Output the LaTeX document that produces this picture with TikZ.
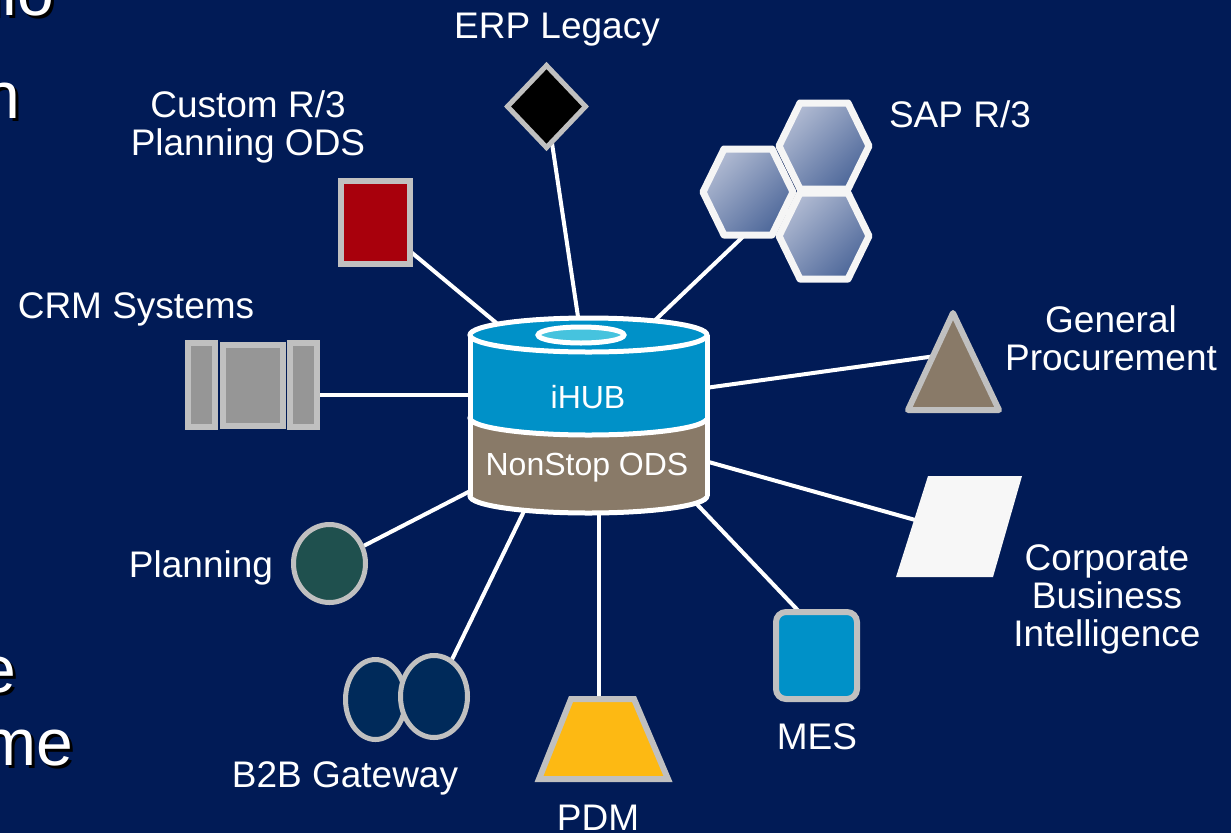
\documentclass[tikz,border=0pt]{standalone}
\usepackage{fontspec}
\setmainfont{Liberation Sans}
\usetikzlibrary{shapes.geometric,backgrounds}
\definecolor{slidebg}{RGB}{1,27,86}
\definecolor{rimgrey}{RGB}{192,192,192}
\definecolor{hubblue}{RGB}{0,145,200}
\definecolor{odsbrown}{RGB}{137,122,104}
\definecolor{holecyan}{RGB}{70,195,222}
\definecolor{r3red}{RGB}{168,0,12}
\definecolor{crmgrey}{RGB}{150,150,150}
\definecolor{planteal}{RGB}{31,80,78}
\definecolor{b2bnavy}{RGB}{0,42,90}
\definecolor{pdmyellow}{RGB}{253,185,19}
\definecolor{hexlight}{RGB}{176,186,210}
\definecolor{hexdark}{RGB}{78,104,154}
\tikzset{
  lbl/.style={text=white, font=\fontsize{37}{38}\selectfont, align=center, inner sep=0pt},
  frag/.style={text=white, font=\fontsize{66}{73}\selectfont, inner sep=0pt, anchor=base east},
  fragshade/.style={frag, text=black},
  box/.style={draw=rimgrey, line width=6pt, inner sep=0pt, outer sep=0pt},
  link/.style={draw=white, line width=4pt},
  hexcell/.style={draw=white!96!black, line width=7pt, line join=round, top color=hexlight, bottom color=hexdark, shading angle=45},
  rim/.style={draw=white, line width=5pt}
}
\begin{document}
\begin{tikzpicture}[x=1pt, y=-1pt]
\useasboundingbox (0,0) rectangle (1231,833);
\begin{scope}[on background layer]
\fill[slidebg] (0,0) rectangle (1231,833);
\end{scope}
\node[fragshade] at (57,18) {nio};
\node[frag] (fr1) at (54,15) {nio};
\node[fragshade] at (23,121) {n};
\node[frag] (fr2) at (20,118) {n};
\node[fragshade] at (19,695) {e};
\node[frag] (fr3) at (16,692) {e};
\node[fragshade] at (76,768) {me};
\node[frag] (fr4) at (73,765) {me};
\node[box, diamond, fill=black, line width=5pt, minimum width=78pt, minimum height=82pt] (erp) at (546.5,106.5) {};
\node[box, fill=r3red, minimum width=69pt, minimum height=83pt] (r3) at (375.5,222.5) {};
\node[box, fill=crmgrey, minimum width=27pt, minimum height=84pt] (crml) at (201.5,385) {};
\node[box, fill=crmgrey, minimum width=60pt, minimum height=81pt] (crmm) at (253,385.5) {};
\node[box, fill=crmgrey, minimum width=27pt, minimum height=84pt] (crmr) at (303.5,385) {};
\draw[hexcell, shift={(748,192)}] (-45,0) -- (-24,-43) -- (24,-43) -- (45,0) -- (24,43) -- (-24,43) -- cycle;
\draw[hexcell, shift={(824,236)}] (-45,0) -- (-24,-43) -- (24,-43) -- (45,0) -- (24,43) -- (-24,43) -- cycle;
\draw[hexcell, shift={(824,146)}] (-45,0) -- (-24,-43) -- (24,-43) -- (45,0) -- (24,43) -- (-24,43) -- cycle;
\coordinate (sap) at (790,192);
\draw[draw=rimgrey, line width=6pt, line join=round, fill=odsbrown] (953,313) -- (999,410) -- (908,410) -- cycle;
\coordinate (genproc) at (950,354);
\fill[white!97!black] (928,476) -- (1022,476) -- (993,577) -- (896,577) -- cycle;
\coordinate (cbi) at (958,532);
\node[box, ellipse, fill=planteal, line width=5pt, minimum width=72pt, minimum height=78pt] (plan) at (329.5,563.5) {};
\node[box, ellipse, fill=b2bnavy, line width=5pt, minimum width=60pt, minimum height=80pt] (b2bl) at (375.5,699.5) {};
\node[box, ellipse, fill=b2bnavy, line width=5pt, minimum width=67pt, minimum height=82pt] (b2b) at (434,696.5) {};
\draw[draw=rimgrey, line width=6pt, fill=pdmyellow] (571,699) -- (634,699) -- (668,779) -- (539,779) -- cycle;
\coordinate (pdm) at (599,740);
\node[box, rounded corners=10pt, fill=hubblue, minimum width=81pt, minimum height=87pt] (mes) at (816.5,655.5) {};
\draw[rim, fill=odsbrown] (588.5,496) ellipse [x radius=118.5, y radius=17];
\fill[odsbrown] (470,418) rectangle (707,496);
\draw[rim, fill=hubblue] (588.5,418) ellipse [x radius=118.5, y radius=17];
\fill[hubblue] (470,335) rectangle (707,418);
\draw[rim, fill=hubblue] (588.5,335) ellipse [x radius=118.5, y radius=17];
\draw[rim, fill=holecyan] (581,335) ellipse [x radius=43, y radius=8];
\draw[rim] (470,335) -- (470,496) (707,335) -- (707,496);
\node[lbl, font=\fontsize{32}{34}\selectfont, anchor=base] (ihub) at (588,408) {iHUB};
\node[lbl, font=\fontsize{32}{34}\selectfont, anchor=base] (ods) at (587,475) {NonStop ODS};
\node[lbl, anchor=base] (erp-l) at (557,38) {ERP Legacy};
\node[lbl] (r3-l) at (248,127) {Custom R/3\\Planning ODS};
\node[lbl, anchor=base] (sap-l) at (960,127) {SAP R/3};
\node[lbl, anchor=base] (crm-l) at (136,318) {CRM Systems};
\node[lbl] (gp-l) at (1111,338) {General\\Procurement};
\node[lbl, anchor=base] (plan-l) at (201,577) {Planning};
\node[lbl] (cbi-l) at (1107,599) {Corporate\\Business\\Intelligence};
\node[lbl, anchor=base] (mes-l) at (817,749) {MES};
\node[lbl, anchor=base] (b2b-l) at (345,787) {B2B Gateway};
\node[lbl, anchor=base] (pdm-l) at (598,830) {PDM};
\coordinate (h-erp) at (580,330);
\coordinate (h-r3) at (500,326);
\coordinate (h-sap) at (650,325);
\coordinate (h-crm) at (480,395);
\coordinate (h-gp) at (698,389);
\coordinate (h-cbi) at (698,459);
\coordinate (h-mes) at (690,497);
\coordinate (h-pdm) at (599,505);
\coordinate (h-b2b) at (527,505);
\coordinate (h-plan) at (480,486);
\begin{scope}[on background layer]
\draw[link] (erp) -- (h-erp);
\draw[link] (r3) -- (h-r3);
\draw[link] (sap) -- (h-sap);
\draw[link] ([yshift=-10pt]crmr.east) -- (h-crm);
\draw[link] (genproc) -- (h-gp);
\draw[link] (cbi) -- (h-cbi);
\draw[link] ([xshift=-17pt]mes.north) -- (h-mes);
\draw[link] (pdm) -- (h-pdm);
\draw[link] (b2b) -- (h-b2b);
\draw[link] (plan) -- (h-plan);
\end{scope}
\end{tikzpicture}
\end{document}
